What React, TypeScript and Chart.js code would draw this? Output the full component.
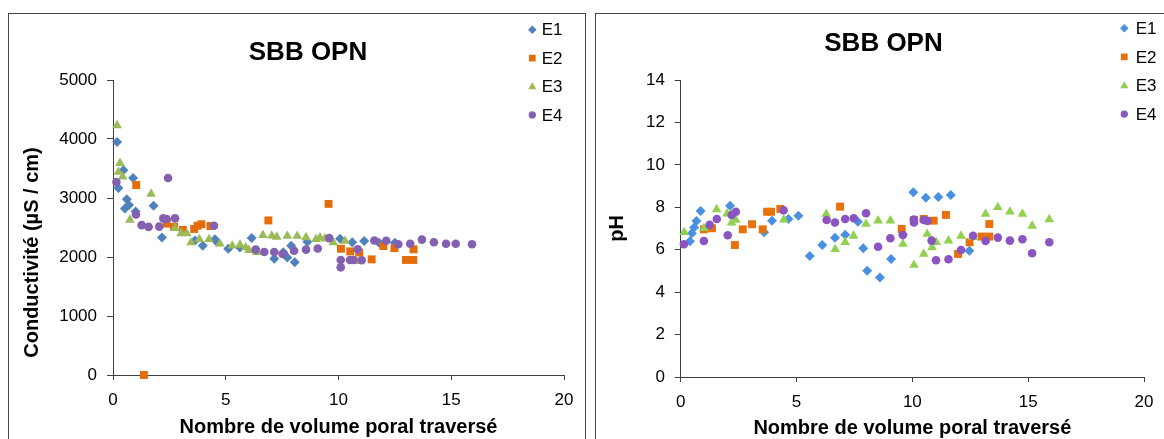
import React, { useEffect, useRef } from 'react';
import { Chart, registerables } from 'chart.js';

Chart.register(...registerables);

const FONT = '"Liberation Sans", Arial, sans-serif';

const seriesNames = ['E1', 'E2', 'E3', 'E4'];
const pointStyles = ['rectRot', 'rect', 'triangle', 'circle'];
const pointRadii = [5, 5.6, 5.6, 4.3];
const colorsCond = ['#4F81BD', '#E46C0A', '#9BBB59', '#8560B0'];
const colorsPh = ['#4A90E2', '#E8710A', '#92D050', '#8A55C0'];

const chartTitle = 'SBB OPN';
const xTitle = 'Nombre de volume poral traversé';
const condTitle = 'Conductivité (µS / cm)';
const phTitle = 'pH';

const xTicks = [0, 5, 10, 15, 20];
const condTicks = [0, 1000, 2000, 3000, 4000, 5000];
const phTicks = [0, 2, 4, 6, 8, 10, 12, 14];

// Conductivity series [volume poral, µS/cm]
const condE1 = [
  [0.18, 3950], [0.24, 3170], [0.46, 3470], [0.53, 2820], [0.61, 2980], [0.71, 2880],
  [0.89, 3340], [1.0, 2770], [1.8, 2870], [2.17, 2330], [3.64, 2280], [3.98, 2190],
  [4.52, 2300], [4.6, 2260], [5.11, 2140], [5.63, 2160], [6.15, 2320], [7.15, 1970],
  [7.55, 2080], [7.73, 1990], [7.9, 2190], [8.06, 1910], [8.62, 2260], [10.07, 2310],
  [10.61, 2250], [11.14, 2270], [11.8, 2240], [12.5, 2240],
];
const condE2 = [
  [1.03, 3220], [1.37, 0], [2.38, 2565], [2.71, 2510], [3.1, 2460], [3.6, 2475],
  [3.75, 2530], [3.92, 2555], [4.32, 2525], [6.89, 2620], [9.56, 2900], [10.11, 2140],
  [10.52, 2095], [10.92, 2075], [11.47, 1960], [11.99, 2185], [12.48, 2150],
  [12.99, 1950], [13.32, 1950], [13.33, 2130],
];
const condE3 = [
  [0.18, 4230], [0.24, 3440], [0.31, 3590], [0.43, 3360], [0.75, 2630], [1.69, 3070],
  [2.75, 2490], [3.02, 2400], [3.27, 2400], [3.46, 2245], [3.83, 2300], [4.26, 2300],
  [4.74, 2225], [5.29, 2190], [5.63, 2205], [5.88, 2160], [6.03, 2115], [6.37, 2080],
  [6.65, 2370], [7.04, 2360], [7.26, 2340], [7.73, 2356], [8.17, 2356], [8.56, 2333],
  [9.0, 2300], [9.18, 2330], [9.4, 2311], [9.77, 2245], [10.29, 2270], [10.78, 1930],
];
const condE4 = [
  [0.15, 3270], [1.02, 2720], [1.27, 2540], [1.58, 2510], [2.05, 2515], [2.23, 2655],
  [2.38, 2645], [2.44, 3340], [2.75, 2655], [4.48, 2530], [6.33, 2125], [6.71, 2085],
  [7.15, 2085], [7.52, 2050], [8.03, 2105], [8.56, 2125], [9.08, 2145], [9.59, 2320],
  [10.1, 1950], [10.1, 1825], [10.51, 1950], [10.66, 1950], [10.85, 2130], [11.03, 1945],
  [11.59, 2280], [12.12, 2275], [12.65, 2215], [13.18, 2225], [13.7, 2295], [14.23, 2250],
  [14.77, 2225], [15.2, 2225], [15.92, 2215],
];

// pH series [volume poral, pH]
const phE1 = [
  [0.4, 6.4], [0.48, 6.78], [0.58, 7.05], [0.68, 7.35], [0.86, 7.82], [2.13, 8.07],
  [3.6, 6.82], [3.94, 7.37], [4.65, 7.45], [5.08, 7.6], [5.57, 5.7], [6.11, 6.22],
  [6.66, 6.56], [7.1, 6.71], [7.65, 7.32], [7.88, 6.07], [8.05, 5.01], [8.6, 4.69],
  [9.08, 5.56], [9.59, 6.72], [10.04, 8.71], [10.58, 8.45], [11.12, 8.49], [11.66, 8.58],
  [12.46, 5.95],
];
const phE2 = [
  [1.0, 6.96], [1.35, 7.01], [2.34, 6.22], [2.68, 6.96], [3.08, 7.2], [3.54, 6.96],
  [3.73, 7.79], [3.9, 7.79], [4.3, 7.92], [6.88, 8.03], [9.54, 6.98], [10.07, 7.4],
  [10.49, 7.45], [10.92, 7.37], [11.45, 7.64], [11.97, 5.8], [12.47, 6.35], [12.99, 6.62],
  [13.32, 6.62], [13.32, 7.21],
];
const phE3 = [
  [0.15, 6.82], [1.0, 7.01], [1.55, 7.9], [2.0, 7.7], [2.2, 7.27], [2.38, 7.4],
  [4.45, 7.42], [6.28, 7.68], [6.67, 6.02], [7.1, 6.36], [7.46, 6.65], [8.0, 7.21],
  [8.52, 7.37], [9.05, 7.37], [9.59, 6.27], [10.07, 5.28], [10.49, 5.8], [10.64, 6.74],
  [10.85, 6.11], [11.03, 6.35], [11.56, 6.43], [12.1, 6.65], [12.62, 6.59], [13.16, 7.69],
  [13.69, 8.0], [14.21, 7.79], [14.75, 7.69], [15.17, 7.12], [15.91, 7.43],
];
const phE4 = [
  [0.14, 6.26], [1.0, 6.41], [1.25, 7.17], [1.56, 7.45], [2.03, 6.68], [2.2, 7.64],
  [2.38, 7.79], [4.44, 7.86], [6.3, 7.4], [6.66, 7.28], [7.1, 7.45], [7.47, 7.48],
  [8.0, 7.72], [8.52, 6.14], [9.05, 6.54], [9.59, 6.69], [10.06, 7.42], [10.07, 7.28],
  [10.49, 7.4], [10.65, 7.36], [10.83, 6.43], [11.02, 5.5], [11.56, 5.55], [12.1, 5.99],
  [12.62, 6.66], [13.16, 6.41], [13.69, 6.57], [14.21, 6.43], [14.75, 6.49], [15.17, 5.83],
  [15.91, 6.35],
];

function drawMarker(ctx: CanvasRenderingContext2D, style: string, x: number, y: number, r: number, color: string) {
  ctx.fillStyle = color;
  ctx.beginPath();
  if (style === 'rectRot') {
    ctx.moveTo(x, y - r);
    ctx.lineTo(x + r, y);
    ctx.lineTo(x, y + r);
    ctx.lineTo(x - r, y);
  } else if (style === 'rect') {
    const s = r * Math.SQRT1_2;
    ctx.rect(x - s, y - s, 2 * s, 2 * s);
  } else if (style === 'triangle') {
    const h = r * 0.866;
    ctx.moveTo(x, y - r * 0.9);
    ctx.lineTo(x + h, y + r * 0.6);
    ctx.lineTo(x - h, y + r * 0.6);
  } else {
    ctx.arc(x, y, r, 0, Math.PI * 2);
  }
  ctx.closePath();
  ctx.fill();
}

function legendPlugin(mx: number, tx: number, y0: number, dy: number) {
  return {
    id: 'sideLegend',
    afterDraw(chart: any) {
      const ctx = chart.ctx as CanvasRenderingContext2D;
      ctx.save();
      chart.data.datasets.forEach((ds: any, i: number) => {
        const y = y0 + i * dy;
        drawMarker(ctx, ds.pointStyle, mx, y, ds.pointRadius * 0.85, ds.backgroundColor);
        ctx.fillStyle = '#000';
        ctx.font = `17px ${FONT}`;
        ctx.textBaseline = 'middle';
        ctx.textAlign = 'left';
        ctx.fillText(ds.label, tx, y + 1);
      });
      ctx.restore();
    },
  };
}

type Params = {
  series: number[][][];
  colors: string[];
  yTicks: number[];
  yTitle: string;
  padL: number;
  padR: number;
  yAxisW: number;
  yTickPad: number;
  yTitlePad: number;
  xAxisH: number;
  xTitlePadB: number;
  titlePadTop: number;
  titlePadBottom: number;
  legend: [number, number, number, number];
};

function buildConfig(p: Params): any {
  const axisColor = '#404040';
  return {
    type: 'scatter',
    data: {
      datasets: p.series.map((s, i) => ({
        label: seriesNames[i],
        data: s.map(([x, y]) => ({ x, y })),
        pointStyle: pointStyles[i],
        pointRadius: pointRadii[i],
        pointHoverRadius: pointRadii[i],
        pointBorderWidth: 0,
        backgroundColor: p.colors[i],
        borderColor: p.colors[i],
        showLine: false,
        clip: false,
        order: seriesNames.length - i,
      })),
    },
    options: {
      responsive: false,
      animation: false,
      devicePixelRatio: 1,
      layout: { padding: { left: p.padL, right: p.padR, top: 0, bottom: 0 } },
      plugins: {
        legend: { display: false },
        tooltip: { enabled: false },
        title: {
          display: true,
          text: chartTitle,
          color: '#000',
          font: { family: FONT, size: 26, weight: 'bold' },
          padding: { top: p.titlePadTop, bottom: p.titlePadBottom },
        },
      },
      scales: {
        x: {
          type: 'linear',
          min: xTicks[0],
          max: xTicks[xTicks.length - 1],
          afterBuildTicks: (s: any) => { s.ticks = xTicks.map((v) => ({ value: v })); },
          afterFit: (s: any) => { s.height = p.xAxisH; },
          grid: { display: true, drawOnChartArea: false, drawTicks: true, tickLength: 5, color: axisColor },
          border: { display: true, color: axisColor, width: 1 },
          ticks: {
            color: '#000', padding: 10.5, maxRotation: 0, font: { family: FONT, size: 17 },
            callback: (v: any) => String(v),
          },
          title: {
            display: true,
            text: xTitle,
            color: '#000',
            font: { family: FONT, size: 20, weight: 'bold' },
            padding: { top: 0, bottom: p.xTitlePadB },
          },
        },
        y: {
          type: 'linear',
          min: p.yTicks[0],
          max: p.yTicks[p.yTicks.length - 1],
          afterBuildTicks: (s: any) => { s.ticks = p.yTicks.map((v) => ({ value: v })); },
          afterFit: (s: any) => { s.width = p.yAxisW; },
          grid: { display: true, drawOnChartArea: false, drawTicks: true, tickLength: 6, color: axisColor },
          border: { display: true, color: axisColor, width: 1 },
          ticks: {
            color: '#000', padding: p.yTickPad, font: { family: FONT, size: 17 },
            callback: (v: any) => String(v),
          },
          title: {
            display: true,
            text: p.yTitle,
            color: '#000',
            font: { family: FONT, size: 20, weight: 'bold' },
            padding: { top: p.yTitlePad, bottom: 0 },
          },
        },
      },
    },
    plugins: [legendPlugin(p.legend[0], p.legend[1], p.legend[2], p.legend[3])],
  };
}

function ChartBox({ params, width, height }: { params: Params; width: number; height: number }) {
  const ref = useRef<HTMLCanvasElement | null>(null);
  useEffect(() => {
    if (!ref.current) return;
    const chart = new Chart(ref.current, buildConfig(params));
    return () => chart.destroy();
  }, []);
  return <canvas ref={ref} width={width} height={height} style={{ display: 'block', width, height }} />;
}

const condParams: Params = {
  series: [condE1, condE2, condE3, condE4],
  colors: colorsCond,
  yTicks: condTicks,
  yTitle: condTitle + '         ',
  padL: 43,
  padR: 21,
  yAxisW: 61,
  yTickPad: 10,
  yTitlePad: -32,
  xAxisH: 64,
  xTitlePadB: 0,
  titlePadTop: 23,
  titlePadBottom: 11.8,
  legend: [523.3, 532.7, 15.7, 28.4],
};

const phParams: Params = {
  series: [phE1, phE2, phE3, phE4],
  colors: colorsPh,
  yTicks: phTicks,
  yTitle: phTitle,
  padL: 20.3,
  padR: 13.3,
  yAxisW: 64.4,
  yTickPad: 9.7,
  yTitlePad: -11.3,
  xAxisH: 62,
  xTitlePadB: -1,
  titlePadTop: 14.2,
  titlePadBottom: 20.6,
  legend: [528.3, 539.7, 14.3, 28.6],
};

export default function App() {
  const boxStyle: React.CSSProperties = {
    position: 'absolute',
    top: 13,
    border: '1px solid #444',
    background: '#fff',
    overflow: 'hidden',
  };
  return (
    <div style={{ position: 'fixed', left: 0, top: 0, width: 1164, height: 439, overflow: 'hidden', background: '#fff' }}>
      <div style={{ ...boxStyle, left: 8, width: 576, height: 500 }}>
        <ChartBox params={condParams} width={576} height={425} />
      </div>
      <div style={{ ...boxStyle, left: 595, width: 620, height: 500 }}>
        <ChartBox params={phParams} width={568} height={425} />
      </div>
    </div>
  );
}
